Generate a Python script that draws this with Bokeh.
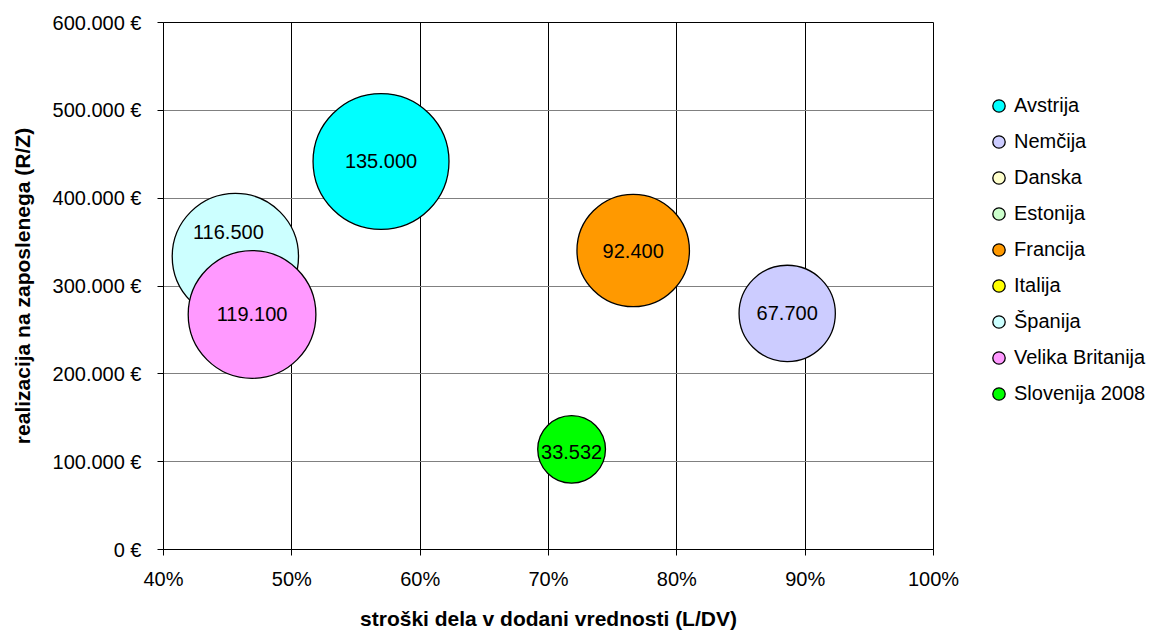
import math
from bokeh.plotting import figure
from bokeh.models import (ColumnDataSource, Range1d, FixedTicker, SingleIntervalTicker,
                          NumeralTickFormatter, CustomJSTickFormatter, Legend, LegendItem)
from bokeh.core.properties import value
from bokeh.embed import file_html
from bokeh.resources import INLINE

NAN = float("nan")

# ---- data ----
countries = ["Avstrija", "Nemčija", "Danska", "Estonija", "Francija", "Italija",
             "Španija", "Velika Britanija", "Slovenija 2008"]
labor_share = [0.5695, 0.886, NAN, NAN, 0.766, NAN, 0.456, 0.469, 0.718]          # L/DV
revenue_per_employee = [441800, 268800, NAN, NAN, 340400, NAN, 333600, 267600, 114000]  # R/Z
employees = [135000, 67700, NAN, NAN, 92400, NAN, 116500, 119100, 33532]
bubble_labels = ["135.000", "67.700", "", "", "92.400", "", "116.500", "119.100", "33.532"]
colors = ["#00FFFF", "#CCCCFF", "#FFFFCC", "#CCFFCC", "#FF9900", "#FFFF00",
          "#CCFFFF", "#FF99FF", "#00FF00"]
x_ticks = [0.4, 0.5, 0.6, 0.7, 0.8, 0.9, 1.0]

FONT = "Liberation Sans"
SCALE = 0.37  # bubble diameter in px per sqrt(value)
label_dy = {"Španija": -24, "Slovenija 2008": 3}
label_dx = {"Španija": -7}

p = figure(frame_width=770, frame_height=527,
           x_range=Range1d(0.4, 1.0), y_range=Range1d(0, 600000),
           output_backend="svg", toolbar_location=None,
           min_border_left=163, min_border_right=226, min_border_top=22, min_border_bottom=80)

p.background_fill_color = "white"
p.border_fill_color = "white"
p.outline_line_color = "black"
p.outline_line_width = 1

renderers = []
for i, name in enumerate(countries):
    v = employees[i]
    size = SCALE * math.sqrt(v) if not math.isnan(v) else NAN
    src = ColumnDataSource(dict(x=[labor_share[i]], y=[revenue_per_employee[i]], s=[size]))
    r = p.scatter("x", "y", size="s", source=src, marker="circle",
                  fill_color=colors[i], line_color="black", line_width=1.3)
    renderers.append(r)

lx, ly, lt, ox, oy = [], [], [], [], []
for i, name in enumerate(countries):
    if math.isnan(employees[i]):
        continue
    lx.append(labor_share[i]); ly.append(revenue_per_employee[i]); lt.append(bubble_labels[i])
    ox.append(label_dx.get(name, 0)); oy.append(label_dy.get(name, 0))
lsrc = ColumnDataSource(dict(x=lx, y=ly, t=lt, ox=ox, oy=oy))
p.text("x", "y", text="t", source=lsrc, x_offset="ox", y_offset="oy",
       text_align="center", text_baseline="middle",
       text_font=value(FONT), text_font_size="20px", text_color="black")

# axes
p.xaxis.ticker = FixedTicker(ticks=x_ticks)
p.xaxis.formatter = NumeralTickFormatter(format="0%")
p.yaxis.ticker = SingleIntervalTicker(interval=100000)
p.yaxis.formatter = CustomJSTickFormatter(code="""
    const s = Math.round(tick).toString().replace(/\\B(?=(\\d{3})+(?!\\d))/g, '.');
    return s + ' \u20ac';
""")
for ax in (p.xaxis[0], p.yaxis[0]):
    ax.axis_line_color = "black"
    ax.axis_line_width = 1
    ax.major_tick_line_color = "black"
    ax.major_tick_out = 6
    ax.major_tick_in = 0
    ax.minor_tick_line_color = None
    ax.major_label_text_font = FONT
    ax.major_label_text_font_size = "20px"
    ax.major_label_text_color = "black"
    ax.axis_label_text_font = FONT
    ax.axis_label_text_font_style = "bold"
    ax.axis_label_text_font_size = "21px"
    ax.axis_label_text_color = "black"

p.xaxis.axis_label = "stroški dela v dodani vrednosti (L/DV)"
p.yaxis.axis_label = "realizacija na zaposlenega (R/Z)"
p.xaxis.major_label_standoff = 12
p.yaxis.major_label_standoff = 16
p.xaxis.axis_label_standoff = 14
p.yaxis.axis_label_standoff = 16

p.xgrid.grid_line_color = "black"
p.xgrid.grid_line_width = 1
p.ygrid.grid_line_color = "#808080"
p.ygrid.grid_line_width = 1

legend = Legend(items=[LegendItem(label=n, renderers=[r]) for n, r in zip(countries, renderers)],
                location=(50, 140), glyph_width=31, glyph_height=31, label_standoff=0,
                spacing=5, padding=0, margin=0, border_line_color=None,
                background_fill_alpha=0, label_text_font=FONT, label_text_font_size="20px",
                label_text_color="black", label_height=31)
p.add_layout(legend, "right")

open("out.html", "w").write(file_html(p, INLINE))
